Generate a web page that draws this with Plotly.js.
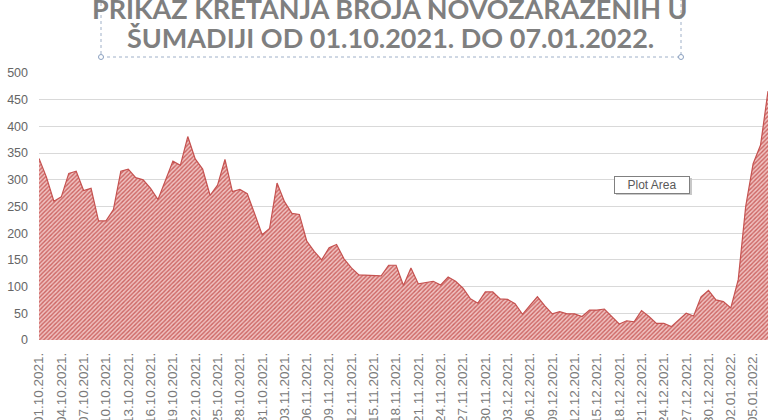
<!DOCTYPE html>
<html>
<head>
<meta charset="utf-8">
<script src="https://cdn.plot.ly/plotly-3.0.1.min.js"></script>
<style>html,body{margin:0;padding:0;background:#fff;}#chart{width:784px;height:420px;}</style>
</head>
<body>
<div id="chart"></div>
<script>
const dates = [
"01.10.2021.","02.10.2021.","03.10.2021.","04.10.2021.","05.10.2021.","06.10.2021.","07.10.2021.","08.10.2021.","09.10.2021.","10.10.2021.",
"11.10.2021.","12.10.2021.","13.10.2021.","14.10.2021.","15.10.2021.","16.10.2021.","17.10.2021.","18.10.2021.","19.10.2021.","20.10.2021.",
"21.10.2021.","22.10.2021.","23.10.2021.","24.10.2021.","25.10.2021.","26.10.2021.","27.10.2021.","28.10.2021.","29.10.2021.","30.10.2021.",
"31.10.2021.","01.11.2021.","02.11.2021.","03.11.2021.","04.11.2021.","05.11.2021.","06.11.2021.","07.11.2021.","08.11.2021.","09.11.2021.",
"10.11.2021.","11.11.2021.","12.11.2021.","13.11.2021.","14.11.2021.","15.11.2021.","16.11.2021.","17.11.2021.","18.11.2021.","19.11.2021.",
"20.11.2021.","21.11.2021.","22.11.2021.","23.11.2021.","24.11.2021.","25.11.2021.","26.11.2021.","27.11.2021.","28.11.2021.","29.11.2021.",
"30.11.2021.","01.12.2021.","02.12.2021.","03.12.2021.","04.12.2021.","05.12.2021.","06.12.2021.","07.12.2021.","08.12.2021.","09.12.2021.",
"10.12.2021.","11.12.2021.","12.12.2021.","13.12.2021.","14.12.2021.","15.12.2021.","16.12.2021.","17.12.2021.","18.12.2021.","19.12.2021.",
"20.12.2021.","21.12.2021.","22.12.2021.","23.12.2021.","24.12.2021.","25.12.2021.","26.12.2021.","27.12.2021.","28.12.2021.","29.12.2021.",
"30.12.2021.","31.12.2021.","01.01.2022.","02.01.2022.","03.01.2022.","04.01.2022.","05.01.2022.","06.01.2022.","07.01.2022."
];
const newCases = [
340,305,260,268,312,316,280,284,223,223,
244,316,320,304,300,284,263,301,335,327,
381,339,320,271,290,338,278,282,274,236,
197,209,294,259,237,235,185,166,150,173,
179,152,135,122,121,121,120,140,140,102,
135,105,108,110,103,118,110,97,77,69,
90,90,77,76,68,48,65,81,64,49,
53,49,49,44,56,56,58,44,30,36,
34,55,44,31,31,25,38,50,45,81,
93,75,72,60,113,250,330,365,466
];
const yTicks = [0,50,100,150,200,250,300,350,400,450,500];
const titleLine1 = "PRIKAZ KRETANJA BROJA NOVOZARAŽENIH U";
const titleLine2 = "ŠUMADIJI OD 01.10.2021. DO 07.01.2022.";
const tipText = "Plot Area";

const xTicks = dates.filter((d, i) => i % 3 === 0);

const trace = {
  x: dates, y: newCases, type: 'scatter', mode: 'lines',
  fill: 'tozeroy',
  line: {color: '#c55250', width: 1.2},
  fillcolor: '#e3a3a2',
  fillpattern: {shape: '/', fgcolor: '#cc6462', bgcolor: '#f0c2c1', size: 3, solidity: 0.45},
  hoverinfo: 'skip'
};

// pixel helpers for paper coordinates
const L = 39, R = 768, T = 73, B = 340;
const px = v => (v - L) / (R - L);
const py = v => (B - v) / (B - T);

const layout = {
  width: 784, height: 420,
  margin: {l: L, r: 784 - R, t: T, b: 420 - B},
  paper_bgcolor: '#ffffff', plot_bgcolor: '#ffffff',
  showlegend: false,
  font: {family: 'Liberation Sans, Arial, sans-serif', color: '#595959', size: 12},
  xaxis: {
    type: 'category', range: [0, dates.length - 1],
    tickmode: 'array', tickvals: xTicks, ticktext: xTicks,
    tickangle: -90, showgrid: false, zeroline: false, showline: false,
    ticks: '', automargin: false, ticklabelstandoff: 9,
    tickfont: {size: 13.5, color: '#7a7a7a'}
  },
  yaxis: {
    range: [0, 500], tickmode: 'array', tickvals: yTicks,
    showgrid: true, gridcolor: '#d9d9d9', gridwidth: 1,
    zeroline: false, showline: false, ticks: '', automargin: false,
    ticklabelstandoff: 10,
    tickfont: {size: 12.5, color: '#666666'}
  },
  shapes: [
    {type: 'rect', xref: 'paper', yref: 'paper', x0: px(101), x1: px(681), y0: py(57), y1: py(-20),
     line: {color: '#9fb0c8', width: 1, dash: 'dot'}, layer: 'above'},
    {type: 'circle', xref: 'paper', yref: 'paper', x0: px(98.5), x1: px(103.5), y0: py(59.5), y1: py(54.5),
     line: {color: '#8aa0c0', width: 1}, fillcolor: '#ffffff'},
    {type: 'circle', xref: 'paper', yref: 'paper', x0: px(678.5), x1: px(683.5), y0: py(59.5), y1: py(54.5),
     line: {color: '#8aa0c0', width: 1}, fillcolor: '#ffffff'},
    {type: 'line', xref: 'paper', yref: 'paper', x0: px(432), x1: px(432), y0: py(20), y1: py(0),
     line: {color: '#555555', width: 1}},
    {type: 'rect', xref: 'paper', yref: 'paper', x0: px(616), x1: px(692), y0: py(195), y1: py(178),
     line: {width: 0}, fillcolor: '#c8c8c8', layer: 'above'}
  ],
  annotations: [
    {text: '<b>' + titleLine1 + '</b>', xref: 'paper', yref: 'paper', x: px(390), y: py(8),
     xanchor: 'center', yanchor: 'middle', showarrow: false,
     font: {family: 'Lato, Open Sans, sans-serif', size: 27, color: '#7f7f7f'}},
    {text: '<b>' + titleLine2 + '</b>', xref: 'paper', yref: 'paper', x: px(390), y: py(38),
     xanchor: 'center', yanchor: 'middle', showarrow: false,
     font: {family: 'Lato, Open Sans, sans-serif', size: 27, color: '#7f7f7f'}},
    {text: tipText, xref: 'paper', yref: 'paper', x: px(652), y: py(184.5),
     xanchor: 'center', yanchor: 'middle', showarrow: false, width: 72,
     bgcolor: '#ffffff', bordercolor: '#808080', borderwidth: 1, borderpad: 1,
     font: {family: 'Liberation Sans, Arial, sans-serif', size: 12, color: '#595959'}}
  ]
};

Plotly.newPlot('chart', [trace], layout, {displayModeBar: false, staticPlot: true});
</script>
</body>
</html>
